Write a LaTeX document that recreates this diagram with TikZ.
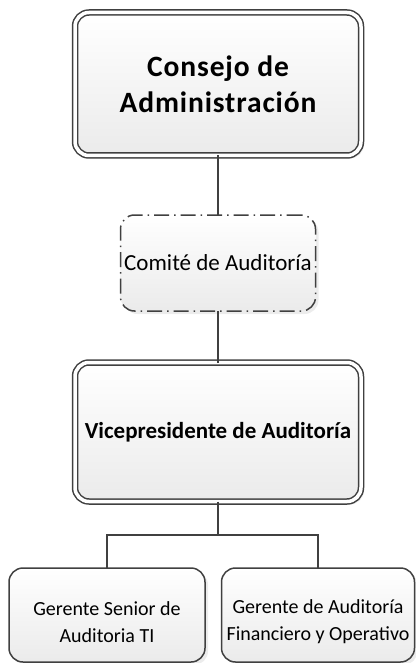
\documentclass[tikz,border=0pt]{standalone}
\usepackage{fontspec}
\setmainfont{Carlito}
\newfontfamily\spacedbold[LetterSpace=3]{Carlito}
\usetikzlibrary{shadows}
\definecolor{edge}{HTML}{404040}
\tikzset{
  x=1pt, y=-1pt,
  basebox/.style={rounded corners=14pt, draw=edge, line width=1.5pt,
    top color=white, bottom color=black!8, align=center,
    inner sep=0pt, outer sep=0pt,
    drop shadow={opacity=0.15, shadow xshift=3pt, shadow yshift=-3pt}},
  dblbox/.style={basebox, double=white, double distance=3.5pt},
  dashbox/.style={basebox, dash pattern=on 15pt off 5pt on 1.5pt off 5pt},
  gtext/.style={align=center, inner sep=0pt, font=\fontsize{20}{27}\selectfont},
  conn/.style={draw=edge, line width=2pt}
}
\begin{document}
\begin{tikzpicture}
\useasboundingbox (0,0) rectangle (415,663);
\node[dblbox, minimum width=286pt, minimum height=143pt,
  font=\spacedbold\fontsize{29.5}{36}\selectfont\bfseries] (top) at (218,84)
  {Consejo de\\Administración};
\node[dashbox, minimum width=195pt, minimum height=96pt,
  font=\fontsize{23}{27}\selectfont] (com) at (218,263)
  {Comité de Auditoría};
\node[dblbox, minimum width=286pt, minimum height=139pt,
  font=\fontsize{23}{28}\selectfont\bfseries] (vp) at (218,432)
  {Vicepresidente de Auditoría};
\node[basebox, minimum width=196pt, minimum height=94pt] (g1) at (107,615) {};
\node[basebox, minimum width=193pt, minimum height=94pt] (g2) at (318,615) {};
\node[gtext] (g1t) at (107,622) {Gerente Senior de\\Auditoria TI};
\node[gtext] (g2t) at (318,622) {Gerente de Auditoría\\Financiero y Operativo};
\coordinate (mid) at (218,535);
\draw[conn] (top.south) -- (com.north);
\draw[conn] (com.south) -- (vp.north);
\draw[conn] (vp.south) -- (mid);
\draw[conn] (g1.north) |- (mid) -| (g2.north);
\end{tikzpicture}
\end{document}
